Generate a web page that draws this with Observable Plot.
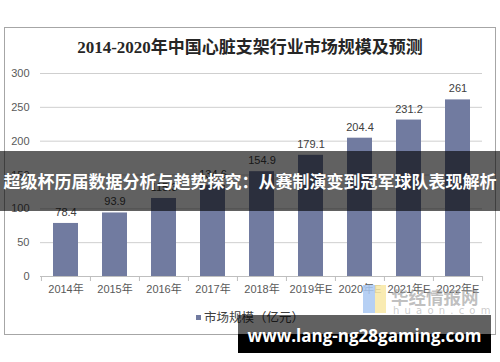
<!DOCTYPE html>
<html><head><meta charset="utf-8">
<script src="https://cdn.jsdelivr.net/npm/d3@7"></script>
<script src="https://cdn.jsdelivr.net/npm/@observablehq/plot@0.6"></script>
<style>
html,body{margin:0;padding:0;background:#fff;}
#wrap{position:relative;width:500px;height:362px;overflow:hidden;font-family:"Liberation Sans","Noto Sans CJK SC",sans-serif;}
#frame{position:absolute;left:4px;top:27px;width:490px;height:306px;border:1px solid #a6a6a6;}
#title{position:absolute;left:0;top:36px;width:500px;height:24px;line-height:24px;text-align:center;font-family:"Liberation Serif","Noto Sans CJK SC",serif;font-weight:700;font-size:17px;color:#262626;}
#chart{position:absolute;left:0;top:60px;}
#legend{position:absolute;left:196px;top:308px;height:18px;line-height:18px;font-family:"Noto Sans CJK SC",sans-serif;font-size:12.5px;color:#404040;}
#legend .sw{display:inline-block;width:5px;height:5px;background:#717ba0;margin-right:3px;vertical-align:2px;}
.logoB{position:absolute;left:363px;top:285px;width:12px;height:28px;background:#a9c8f2;opacity:.85;}
.logoY{position:absolute;left:375px;top:285px;width:11px;height:28px;background:#f8e7a4;opacity:.85;}
.logoT{position:absolute;left:391px;top:286px;font-family:"Noto Sans CJK SC",sans-serif;font-weight:700;font-size:17.5px;line-height:22px;color:rgba(150,150,150,.6);}
.logoS{position:absolute;left:393px;top:305px;font-family:"DejaVu Sans",sans-serif;font-size:10px;line-height:12px;letter-spacing:5.2px;color:rgba(170,170,170,.6);}
#band{position:absolute;left:0;top:151px;width:500px;height:60px;line-height:60px;background:rgba(0,0,0,.62);color:#fff;text-align:center;font-family:"Noto Sans CJK SC",sans-serif;font-weight:700;font-size:17px;white-space:nowrap;}
#wm1{position:absolute;left:238px;top:315px;width:253px;height:19px;background:rgba(0,0,0,.62);}
#wm2{position:absolute;left:238px;top:334px;width:253px;height:19px;background:#000;}
#wmtext{position:absolute;left:238px;top:324px;width:253px;height:24px;line-height:24px;text-align:center;font-family:"Open Sans",sans-serif;font-weight:700;font-size:17px;color:#fff;white-space:nowrap;}
</style></head><body>
<div id="wrap">
  <div id="frame"></div>
  <div id="title"></div>
  <div id="chart"></div>
  <div id="legend"><span class="sw"></span><span id="legtext"></span></div>
  <div class="logoB"></div><div class="logoY"></div>
  <div class="logoT">华经情报网</div>
  <div class="logoS">huaon.com</div>
  <div id="band"></div>
  <div id="wm1"></div><div id="wm2"></div>
  <div id="wmtext">www.lang-ng28gaming.com</div>
</div>
<script>
const titleText = "2014-2020年中国心脏支架行业市场规模及预测";
const overlayText = "超级杯历届数据分析与趋势探究：从赛制演变到冠军球队表现解析";
const seriesName = "市场规模（亿元）";
const years = ["2014年","2015年","2016年","2017年","2018年","2019年E","2020年E","2021年E","2022年E"];
const values = [78.4, 93.9, 115.3, 134.6, 154.9, 179.1, 204.4, 231.2, 261];
const yTicks = [0, 50, 100, 150, 200, 250, 300];

document.getElementById("title").textContent = titleText;
document.getElementById("band").textContent = overlayText;
document.getElementById("legtext").textContent = seriesName;

const data = years.map((y, i) => ({year: y, value: values[i]}));
const fmt = v => Number.isInteger(v) ? String(v) : v.toFixed(1);

const W = 500, H = 240, mL = 40, mR = 18, mT = 13, mB = 24;
const step = (W - mL - mR) / years.length;

const chart = Plot.plot({
  width: W, height: H,
  marginLeft: mL, marginRight: mR, marginTop: mT, marginBottom: mB,
  style: {fontSize: "11px", fontFamily: "'Liberation Sans','Noto Sans CJK SC',sans-serif", color: "#595959", background: "transparent"},
  x: {type: "band", domain: years, paddingInner: 0.49, paddingOuter: 0.245, label: null},
  y: {domain: [0, 300], ticks: yTicks, label: null},
  marks: [
    Plot.ruleY(yTicks.filter(t => t > 0), {y: d => d, stroke: "#cfcfcf", strokeWidth: 1}),
    Plot.barY(data, {x: "year", y: "value", fill: "#717ba0"}),
    Plot.ruleY([0], {stroke: "#bfbfbf", strokeWidth: 1}),
    Plot.ruleX(years, {x: d => d, dx: -step / 2, y1: 0, y2: 0, insetBottom: -5, stroke: "#bfbfbf"}),
    Plot.ruleX([years[years.length - 1]], {x: d => d, dx: step / 2, y1: 0, y2: 0, insetBottom: -5, stroke: "#bfbfbf"}),
    Plot.text(data, {x: "year", y: "value", text: d => fmt(d.value), dy: -11, fill: "#404040", fontSize: 11}),
    Plot.axisY({ticks: yTicks, tickSize: 0, tickPadding: 11, fontSize: 11, color: "#595959", label: null}),
    Plot.axisX({tickSize: 0, tickPadding: 9, fontSize: 11, color: "#595959", label: null})
  ]
});
document.getElementById("chart").appendChild(chart);
</script>
</body></html>
